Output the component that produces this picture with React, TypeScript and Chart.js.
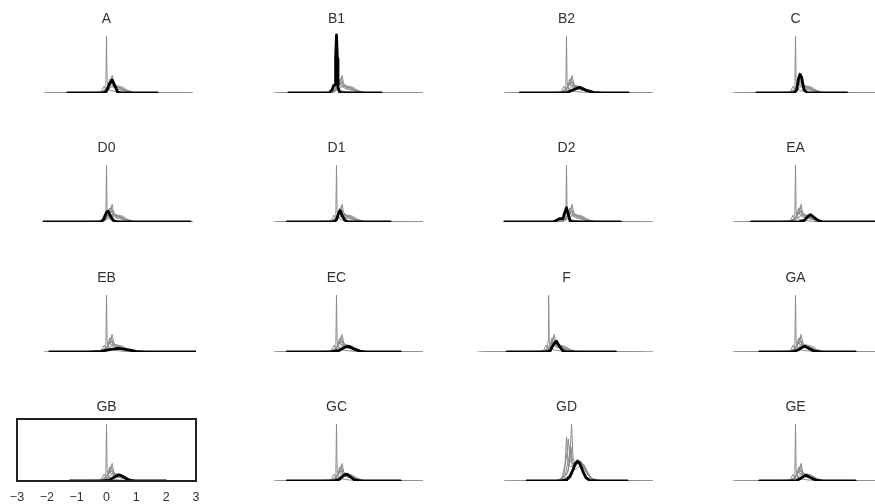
import React, { useEffect, useRef } from "react";
import { Chart, registerables } from "chart.js";

Chart.register(...registerables);
Chart.defaults.font.family = "'Liberation Sans', Arial, sans-serif";

type Pt = [number, number];

// ---------- categories / tick labels ----------
const panelTitles = ["A", "B1", "B2", "C", "D0", "D1", "D2", "EA", "EB", "EC", "F", "GA", "GB", "GC", "GD", "GE"];
const panelGraySet = ["std", "std", "std", "std", "std", "std", "std", "std", "std", "std", "f", "std", "std", "std", "gd", "std"];
const axisPanel = "GB";
const xTickValues = [-3, -2, -1, 0, 1, 2, 3];
const xTickLabels = ["\u22123", "\u22122", "\u22121", "0", "1", "2", "3"];

// ---------- gray reference densities (standard panels) ----------
const GRAY_S0: Pt[] = [[-2.1, 0], [-0.4, 0], [-0.15, 0.01], [-0.05, 0.04], [-0.02, 0.2], [0, 1.0], [0.02, 0.2], [0.06, 0.08], [0.15, 0.04], [0.4, 0.02], [0.8, 0.005], [1.5, 0], [2.9, 0]];
const GRAY_S1: Pt[] = [[-1.9, 0], [-0.3, 0], [-0.1, 0.04], [0.05, 0.1], [0.12, 0.2], [0.19, 0.31], [0.24, 0.16], [0.32, 0.1], [0.45, 0.09], [0.6, 0.05], [0.85, 0.01], [1.3, 0], [2.8, 0]];
const GRAY_S2: Pt[] = [[-2.0, 0], [-0.25, 0], [-0.05, 0.05], [0.05, 0.12], [0.1, 0.24], [0.15, 0.12], [0.22, 0.15], [0.3, 0.08], [0.5, 0.06], [0.7, 0.02], [1.1, 0], [2.6, 0]];
const GRAY_S3: Pt[] = [[-1.6, 0], [-0.2, 0], [-0.08, 0.12], [-0.02, 0.05], [0.08, 0.14], [0.2, 0.2], [0.3, 0.12], [0.4, 0.1], [0.55, 0.07], [0.75, 0.02], [1.0, 0], [2.9, 0]];
const GRAY_S4: Pt[] = [[-1.2, 0], [-0.1, 0.01], [0.05, 0.06], [0.15, 0.1], [0.28, 0.13], [0.4, 0.12], [0.55, 0.1], [0.7, 0.05], [0.9, 0.01], [1.2, 0], [2.4, 0]];
const GRAY_S5: Pt[] = [[-2.1, 0], [-0.15, 0.01], [0.0, 0.08], [0.1, 0.15], [0.2, 0.18], [0.35, 0.11], [0.5, 0.09], [0.65, 0.04], [0.95, 0.005], [1.4, 0], [2.9, 0]];
const GRAY_S6: Pt[] = [[-0.8, 0], [-0.1, 0.02], [0.05, 0.1], [0.16, 0.26], [0.22, 0.1], [0.35, 0.07], [0.6, 0.04], [0.9, 0.01], [2.0, 0]];

// ---------- gray reference densities (panel F) ----------
const GRAY_F0: Pt[] = [[-3.0, 0], [-1.0, 0], [-0.75, 0.01], [-0.65, 0.04], [-0.62, 0.2], [-0.6, 1.0], [-0.58, 0.2], [-0.54, 0.08], [-0.45, 0.04], [-0.2, 0.02], [0.2, 0.005], [0.9, 0], [2.9, 0]];
const GRAY_F1: Pt[] = [[-2.6, 0], [-0.9, 0], [-0.7, 0.04], [-0.55, 0.1], [-0.48, 0.2], [-0.41, 0.31], [-0.36, 0.16], [-0.28, 0.1], [-0.15, 0.09], [0.0, 0.05], [0.25, 0.01], [0.7, 0], [2.4, 0]];
const GRAY_F2: Pt[] = [[-2.8, 0], [-0.85, 0], [-0.65, 0.05], [-0.55, 0.12], [-0.5, 0.24], [-0.45, 0.12], [-0.38, 0.15], [-0.3, 0.08], [-0.1, 0.06], [0.1, 0.02], [0.5, 0], [2.2, 0]];
const GRAY_F3: Pt[] = [[-2.2, 0], [-0.8, 0], [-0.68, 0.12], [-0.62, 0.05], [-0.52, 0.14], [-0.4, 0.2], [-0.3, 0.12], [-0.2, 0.1], [-0.05, 0.07], [0.15, 0.02], [0.4, 0], [2.9, 0]];
const GRAY_F4: Pt[] = [[-1.8, 0], [-0.7, 0.01], [-0.55, 0.06], [-0.45, 0.1], [-0.32, 0.13], [-0.2, 0.12], [-0.05, 0.1], [0.1, 0.05], [0.3, 0.01], [0.6, 0], [1.8, 0]];
const GRAY_F5: Pt[] = [[-2.9, 0], [-0.75, 0.01], [-0.6, 0.08], [-0.5, 0.15], [-0.4, 0.18], [-0.25, 0.11], [-0.1, 0.09], [0.05, 0.04], [0.35, 0.005], [0.8, 0], [2.6, 0]];
const GRAY_F6: Pt[] = [[-1.4, 0], [-0.7, 0.02], [-0.55, 0.1], [-0.44, 0.26], [-0.38, 0.1], [-0.25, 0.07], [0.0, 0.04], [0.3, 0.01], [1.4, 0]];

// ---------- gray reference densities (panel GD) ----------
const GRAY_D0: Pt[] = [[-2.1, 0], [-0.4, 0], [-0.2, 0.03], [0.05, 0.15], [0.12, 0.5], [0.17, 1.0], [0.22, 0.4], [0.3, 0.3], [0.45, 0.33], [0.6, 0.2], [0.8, 0.05], [1.0, 0.01], [2.9, 0]];
const GRAY_D1: Pt[] = [[-1.8, 0], [-0.35, 0], [-0.15, 0.05], [-0.05, 0.3], [0.0, 0.78], [0.05, 0.3], [0.15, 0.25], [0.35, 0.3], [0.5, 0.34], [0.65, 0.18], [0.85, 0.03], [1.1, 0], [2.5, 0]];
const GRAY_D2: Pt[] = [[-2.0, 0], [-0.3, 0], [-0.1, 0.08], [0.02, 0.5], [0.06, 0.74], [0.12, 0.35], [0.25, 0.28], [0.4, 0.35], [0.55, 0.3], [0.7, 0.12], [0.95, 0.01], [2.8, 0]];
const GRAY_D3: Pt[] = [[-1.5, 0], [-0.25, 0], [0.0, 0.1], [0.1, 0.3], [0.15, 0.6], [0.2, 0.35], [0.3, 0.25], [0.45, 0.36], [0.6, 0.22], [0.8, 0.05], [1.2, 0], [2.9, 0]];
const GRAY_D4: Pt[] = [[-1.2, 0], [-0.2, 0], [0.05, 0.08], [0.2, 0.2], [0.35, 0.3], [0.45, 0.32], [0.6, 0.28], [0.75, 0.1], [0.95, 0.01], [2.3, 0]];
const GRAY_D5: Pt[] = [[-2.1, 0], [-0.3, 0], [-0.05, 0.1], [0.08, 0.4], [0.13, 0.65], [0.18, 0.3], [0.3, 0.2], [0.5, 0.3], [0.65, 0.2], [0.85, 0.04], [1.1, 0], [2.9, 0]];

const GRAY_STD = [GRAY_S0, GRAY_S1, GRAY_S2, GRAY_S3, GRAY_S4, GRAY_S5, GRAY_S6];
const GRAY_F = [GRAY_F0, GRAY_F1, GRAY_F2, GRAY_F3, GRAY_F4, GRAY_F5, GRAY_F6];
const GRAY_GD = [GRAY_D0, GRAY_D1, GRAY_D2, GRAY_D3, GRAY_D4, GRAY_D5];

// ---------- black (highlighted) density per panel ----------
const BLACK_A: Pt[] = [[-1.3, 0], [-0.1, 0], [0.0, 0.03], [0.1, 0.16], [0.19, 0.23], [0.27, 0.14], [0.37, 0.02], [0.5, 0], [1.7, 0]];
const BLACK_B1: Pt[] = [[-1.6, 0], [-0.25, 0], [-0.14, 0.06], [-0.1, 0.13], [-0.05, 0.14], [-0.03, 0.6], [0, 1.02], [0.03, 0.6], [0.05, 0.1], [0.1, 0.02], [0.2, 0], [1.5, 0]];
const BLACK_B2: Pt[] = [[-1.55, 0], [0, 0.005], [0.2, 0.05], [0.43, 0.1], [0.65, 0.05], [0.9, 0.01], [1.2, 0], [2.07, 0]];
const BLACK_C: Pt[] = [[-1.3, 0], [-0.05, 0], [0.04, 0.05], [0.1, 0.25], [0.15, 0.33], [0.21, 0.27], [0.28, 0.06], [0.4, 0], [1.72, 0]];
const BLACK_D0: Pt[] = [[-2.1, 0], [-0.2, 0], [-0.1, 0.04], [0.0, 0.17], [0.05, 0.19], [0.12, 0.12], [0.22, 0.03], [0.35, 0], [2.8, 0]];
const BLACK_D1: Pt[] = [[-1.65, 0], [-0.1, 0], [0.0, 0.04], [0.08, 0.17], [0.12, 0.2], [0.18, 0.12], [0.28, 0.03], [0.4, 0], [1.8, 0]];
const BLACK_D2: Pt[] = [[-2.07, 0], [-0.45, 0], [-0.3, 0.04], [-0.22, 0.06], [-0.12, 0.06], [-0.05, 0.18], [0.0, 0.25], [0.05, 0.15], [0.12, 0.02], [0.25, 0], [1.81, 0]];
const BLACK_EA: Pt[] = [[-1.48, 0], [0.1, 0], [0.3, 0.03], [0.42, 0.1], [0.5, 0.13], [0.6, 0.09], [0.75, 0.03], [0.9, 0], [2.9, 0]];
const BLACK_EB: Pt[] = [[-1.9, 0], [-0.6, 0], [-0.2, 0.01], [0.1, 0.04], [0.4, 0.065], [0.7, 0.04], [1.0, 0.01], [1.3, 0], [3.0, 0]];
const BLACK_EC: Pt[] = [[-1.65, 0], [-0.2, 0], [0.1, 0.03], [0.3, 0.09], [0.4, 0.1], [0.55, 0.06], [0.8, 0.01], [1.0, 0], [2.14, 0]];
const BLACK_F: Pt[] = [[-1.99, 0], [-0.7, 0], [-0.55, 0.02], [-0.45, 0.12], [-0.34, 0.19], [-0.25, 0.11], [-0.12, 0.02], [0.0, 0], [1.64, 0]];
const BLACK_GA: Pt[] = [[-1.2, 0], [-0.1, 0], [0.1, 0.04], [0.25, 0.09], [0.33, 0.1], [0.45, 0.06], [0.65, 0.01], [0.85, 0], [2.0, 0]];
const BLACK_GB: Pt[] = [[-1.22, 0], [-0.1, 0], [0.1, 0.02], [0.3, 0.08], [0.42, 0.11], [0.55, 0.08], [0.7, 0.03], [0.85, 0.005], [1.0, 0], [1.99, 0]];
const BLACK_GC: Pt[] = [[-1.65, 0], [-0.1, 0], [0.1, 0.03], [0.25, 0.1], [0.35, 0.12], [0.45, 0.08], [0.6, 0.02], [0.8, 0], [2.14, 0]];
const BLACK_GD: Pt[] = [[-1.32, 0], [-0.2, 0], [0.0, 0.02], [0.12, 0.08], [0.22, 0.2], [0.3, 0.31], [0.37, 0.35], [0.45, 0.3], [0.55, 0.17], [0.65, 0.06], [0.78, 0.01], [1.0, 0], [2.03, 0]];
const BLACK_GE: Pt[] = [[-1.2, 0], [0, 0], [0.15, 0.04], [0.3, 0.09], [0.38, 0.1], [0.5, 0.06], [0.7, 0.01], [0.9, 0], [2.0, 0]];

const blackCurves = [BLACK_A, BLACK_B1, BLACK_B2, BLACK_C, BLACK_D0, BLACK_D1, BLACK_D2, BLACK_EA, BLACK_EB, BLACK_EC, BLACK_F, BLACK_GA, BLACK_GB, BLACK_GC, BLACK_GD, BLACK_GE];

// ---------- layout ----------
const COL_LEFT = [17, 247, 477, 706];
const ROW_TOP = [31, 160, 290, 419];
const PLOT_W = 179;
const PLOT_H = 62;
const PAD_X = 25;
const TITLE_H = 19;
const AXIS_H = 24;
const Y_MAX = 1.09;

const toXY = (pts: Pt[]) => pts.map(([x, y]) => ({ x, y }));

const boxPlugin = {
  id: "panelBox",
  afterDatasetsDraw(chart: any) {
    const { ctx, chartArea } = chart;
    ctx.save();
    ctx.strokeStyle = "#222";
    ctx.lineWidth = 2;
    ctx.strokeRect(chartArea.left, chartArea.top, chartArea.right - chartArea.left, chartArea.bottom - chartArea.top);
    ctx.restore();
  },
};

function Panel({ idx }: { idx: number }) {
  const ref = useRef<HTMLCanvasElement>(null);
  const title = panelTitles[idx];
  const withAxis = title === axisPanel;
  const col = idx % 4;
  const row = Math.floor(idx / 4);
  const canvasW = PLOT_W + 2 * PAD_X;
  const canvasH = TITLE_H + PLOT_H + (withAxis ? AXIS_H : 3);

  useEffect(() => {
    const setName = panelGraySet[idx];
    const grays = setName === "f" ? GRAY_F : setName === "gd" ? GRAY_GD : GRAY_STD;
    const datasets: any[] = [
      {
        data: toXY(blackCurves[idx]),
        borderColor: "#000",
        borderWidth: 2.8,
        pointRadius: 0,
        borderCapStyle: "round",
        borderJoinStyle: "round",
      },
      ...grays.map((g) => ({
        data: toXY(g),
        borderColor: "#8c8c8c",
        borderWidth: 1,
        pointRadius: 0,
      })),
    ];
    const xScale: any = {
      type: "linear",
      min: -3,
      max: 3,
      display: withAxis,
      grid: { display: false, drawTicks: false },
      border: { display: false },
      afterBuildTicks: (scale: any) => {
        scale.ticks = xTickValues.map((v) => ({ value: v }));
      },
      ticks: {
        color: "#333",
        font: { size: 12.5 },
        padding: 9,
        autoSkip: false,
        maxRotation: 0,
        callback: (_v: any, i: number) => xTickLabels[i],
      },
    };
    if (withAxis) {
      xScale.afterFit = (scale: any) => {
        scale.height = AXIS_H;
      };
    }
    const chart = new Chart(ref.current as HTMLCanvasElement, {
      type: "line",
      data: { datasets },
      options: {
        responsive: false,
        animation: false,
        events: [],
        layout: { padding: { left: PAD_X, right: PAD_X, top: 0, bottom: withAxis ? 0 : 3 } },
        plugins: {
          legend: { display: false },
          tooltip: { enabled: false },
          title: {
            display: true,
            text: title,
            color: "#333",
            font: { size: 14, weight: "normal", lineHeight: 1 },
            padding: { top: 0, bottom: 5 },
          },
        },
        scales: {
          x: xScale,
          y: { type: "linear", min: 0, max: Y_MAX, display: false },
        },
      } as any,
      plugins: withAxis ? [boxPlugin] : [],
    });
    return () => chart.destroy();
  }, []);

  return (
    <canvas
      ref={ref}
      width={canvasW}
      height={canvasH}
      style={{
        position: "absolute",
        left: COL_LEFT[col] - PAD_X,
        top: ROW_TOP[row] - TITLE_H,
        width: canvasW,
        height: canvasH,
      }}
    />
  );
}

export default function App() {
  return (
    <div
      style={{
        position: "fixed",
        left: 0,
        top: 0,
        width: 875,
        height: 504,
        overflow: "hidden",
        background: "#fff",
      }}
    >
      {panelTitles.map((_, i) => (
        <Panel key={i} idx={i} />
      ))}
    </div>
  );
}
